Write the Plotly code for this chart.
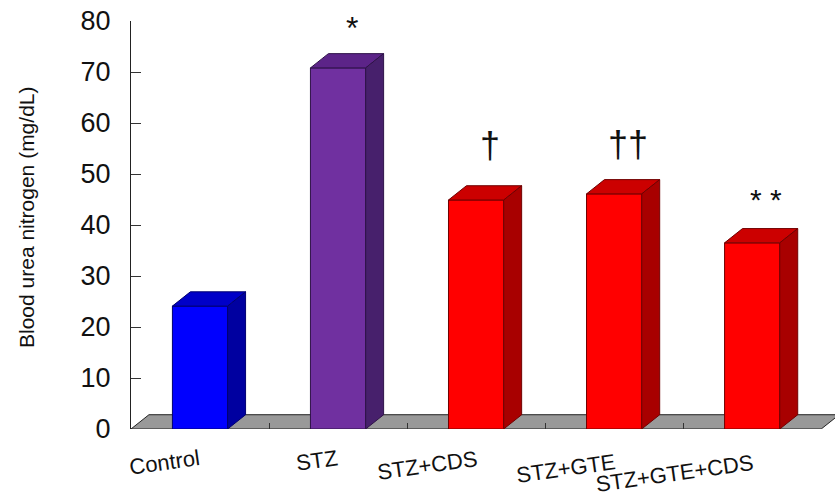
import plotly.graph_objects as go

# ---- data ----
categories = ["Control", "STZ", "STZ+CDS", "STZ+GTE", "STZ+GTE+CDS"]
values = [24.1, 70.8, 44.9, 46.1, 36.5]
markers = ["", "*", "\u2020", "\u2020\u2020", "* *"]
y_ticks = [0, 10, 20, 30, 40, 50, 60, 70, 80]

# ---- styles ----
front_colors = ["#0000FF", "#7030A0", "#FF0000", "#FF0000", "#FF0000"]
top_colors = ["#0000C8", "#5C2488", "#CC0000", "#CC0000", "#CC0000"]
side_colors = ["#0000A0", "#47206C", "#A80000", "#A80000", "#A80000"]
edge_colors = ["#000070", "#2E1248", "#700000", "#700000", "#700000"]
label_xshift = [-36, -21, -49, -48, -78]
label_ypix = [462, 460, 466, 468, 473]
marker_yshift = [0, 40, 55, 49, 43]
marker_size = [0, 32, 36, 36, 30]

BW = 0.4      # bar width (category units)
DX = 0.13     # depth offset x (category units)
DY = 2.8      # depth offset y (value units)
X0, X1 = -0.5, 4.6
FLOOR_END = 4.5
FONT = "Arial, Liberation Sans, sans-serif"

idx = list(range(len(categories)))
fig = go.Figure()

fig.add_trace(go.Bar(
    x=idx, y=values, width=BW,
    marker=dict(color=front_colors, line=dict(color=edge_colors, width=1)),
    hoverinfo="skip", showlegend=False,
))

shapes = []
# floor
shapes.append(dict(
    type="path", xref="x", yref="y", layer="below",
    path=f"M {X0},0 L {FLOOR_END},0 L {FLOOR_END + DX},{DY} L {X0 + DX},{DY} Z",
    fillcolor="#999999", line=dict(color="#222222", width=1),
))
for i, v in zip(idx, values):
    l, r = i - BW / 2, i + BW / 2
    # top face
    shapes.append(dict(
        type="path", xref="x", yref="y",
        path=f"M {l},{v} L {l + DX},{v + DY} L {r + DX},{v + DY} L {r},{v} Z",
        fillcolor=top_colors[i], line=dict(color=edge_colors[i], width=1),
    ))
    # side face
    shapes.append(dict(
        type="path", xref="x", yref="y",
        path=f"M {r},0 L {r + DX},{DY} L {r + DX},{v + DY} L {r},{v} Z",
        fillcolor=side_colors[i], line=dict(color=edge_colors[i], width=1),
    ))

annotations = []
plot_h = 408
for i, c in enumerate(categories):
    annotations.append(dict(
        x=i, xref="x", xshift=label_xshift[i],
        y=(429 - label_ypix[i]) / plot_h, yref="paper",
        text=c, showarrow=False, textangle=-8,
        font=dict(family=FONT, size=22, color="#111111"),
        xanchor="center", yanchor="middle",
    ))
for i, (m, v) in enumerate(zip(markers, values)):
    if m:
        annotations.append(dict(
            x=i + 0.1, xref="x", y=v, yref="y", yshift=marker_yshift[i],
            text=m, showarrow=False,
            font=dict(family=FONT, size=marker_size[i], color="#111111"),
            xanchor="center", yanchor="middle",
        ))
annotations.append(dict(
    x=(27 - 131) / 704, xref="paper", y=(429 - 217) / plot_h, yref="paper",
    text="Blood urea nitrogen (mg/dL)", textangle=-90, showarrow=False,
    font=dict(family=FONT, size=21, color="#111111"),
    xanchor="center", yanchor="middle",
))

fig.update_layout(
    width=835, height=501,
    margin=dict(l=131, r=0, t=21, b=72),
    plot_bgcolor="white", paper_bgcolor="white",
    shapes=shapes, annotations=annotations,
    xaxis=dict(
        range=[X0, X1], tickvals=[i + 0.5 for i in idx[:-1]],
        ticks="inside", ticklen=6, tickcolor="#333333",
        showticklabels=False, showgrid=False, zeroline=False, showline=False,
        automargin=False,
    ),
    yaxis=dict(
        range=[0, 80], tickvals=y_ticks,
        ticks="inside", ticklen=10, tickcolor="#333333",
        showline=True, linecolor="#222222", linewidth=1,
        showgrid=False, zeroline=False, automargin=False,
        tickfont=dict(family=FONT, size=27, color="#111111"),
        ticklabelstandoff=14,
    ),
)

fig.write_html(
    "out.html",
    config={"displayModeBar": False, "staticPlot": True},
    post_script="document.body.style.margin='0';document.body.style.overflow='hidden';",
)
